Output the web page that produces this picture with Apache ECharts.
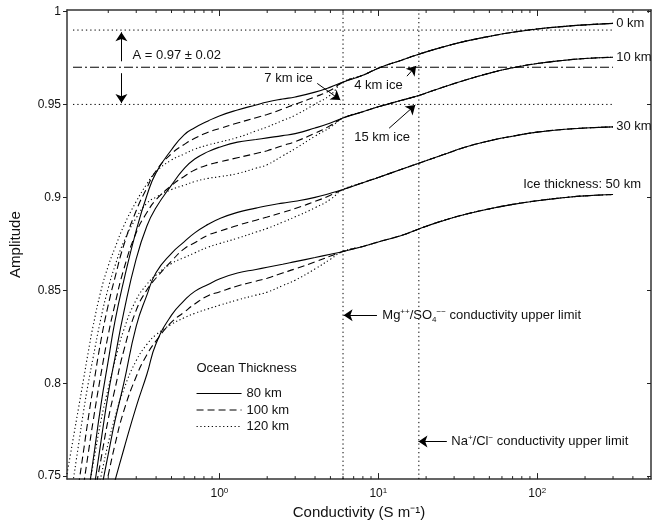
<!DOCTYPE html>
<html>
<head>
<meta charset="utf-8">
<script src="https://cdn.jsdelivr.net/npm/echarts@6.0.0/dist/echarts.min.js"></script>
<style>
  html, body { margin: 0; background: #fff; }
  #chart { width: 652px; height: 525px; }
</style>
</head>
<body>
<div id="chart"></div>
<script>
// conductivity samples (S/m), shared by every curve
const cond = [0.11, 0.12, 0.13, 0.14, 0.15, 0.16, 0.18, 0.2, 0.22, 0.25, 0.3, 0.35, 0.4, 0.5, 0.6, 0.7, 0.85, 1,
  1.3, 1.7, 2, 2.5, 3, 4, 5, 6, 8, 10, 14, 18, 25, 35, 50, 70, 100, 150, 200, 300];

// 80 km ocean (solid), full range, one array per ice thickness
const solid0 = [null, null, null, null, 0.7409, 0.7575, 0.7885, 0.8121, 0.8330, 0.8549, 0.8822, 0.9010, 0.9133, 0.9256, 0.9336, 0.9374,
  0.9411, 0.9438, 0.9470, 0.9497, 0.9513, 0.9529, 0.9540, 0.9566, 0.9593, 0.9620, 0.9657, 0.9695, 0.9738, 0.9770, 0.9807, 0.9839,
  0.9866, 0.9888, 0.9906, 0.9920, 0.9928, 0.9936];
const solid10 = [null, null, null, null, null, 0.7390, 0.7687, 0.7944, 0.8132, 0.8378, 0.8670, 0.8846, 0.8945, 0.9066, 0.9154, 0.9206,
  0.9246, 0.9270, 0.9297, 0.9311, 0.9320, 0.9332, 0.9343, 0.9373, 0.9400, 0.9427, 0.9461, 0.9487, 0.9522, 0.9548, 0.9590, 0.9630,
  0.9668, 0.9697, 0.9720, 0.9738, 0.9747, 0.9754];
const solid30 = [null, null, null, null, null, null, 0.7420, 0.7618, 0.7794, 0.7996, 0.8307, 0.8474, 0.8596, 0.8699, 0.8760, 0.8809,
  0.8855, 0.8885, 0.8919, 0.8942, 0.8955, 0.8969, 0.8979, 0.9000, 0.9022, 0.9042, 0.9079, 0.9107, 0.9151, 0.9184, 0.9226, 0.9269,
  0.9304, 0.9329, 0.9351, 0.9366, 0.9373, 0.9379];
const solid50 = [null, null, null, null, null, null, null, 0.7350, 0.7473, 0.7642, 0.7874, 0.8048, 0.8214, 0.8366, 0.8444, 0.8494,
  0.8531, 0.8561, 0.8593, 0.8612, 0.8624, 0.8640, 0.8654, 0.8676, 0.8694, 0.8709, 0.8736, 0.8760, 0.8795, 0.8830, 0.8872, 0.8908,
  0.8938, 0.8962, 0.8982, 0.8999, 0.9008, 0.9015];

// 100 km (dashed) and 120 km (dotted) ocean, up to 6 S/m; beyond that they follow the solid curve
const dash0 = [null, null, 0.7451, 0.7639, 0.7816, 0.7968, 0.8231, 0.8421, 0.8565, 0.8741, 0.8929, 0.9051, 0.9143, 0.9235, 0.9284,
  0.9318, 0.9350, 0.9370, 0.9400, 0.9428, 0.9446, 0.9475, 0.9501, 0.9540, 0.9576, 0.9620];
const dot0 = [0.7511, 0.7696, 0.7866, 0.8024, 0.8172, 0.8301, 0.8498, 0.8631, 0.8726, 0.8845, 0.8978, 0.9072, 0.9138, 0.9201, 0.9233,
  0.9259, 0.9282, 0.9297, 0.9322, 0.9357, 0.9379, 0.9413, 0.9442, 0.9502, 0.9551, 0.9620];
const dash10 = [null, null, null, 0.7455, 0.7628, 0.7787, 0.8050, 0.8261, 0.8421, 0.8611, 0.8811, 0.8918, 0.8987, 0.9064, 0.9112,
  0.9147, 0.9175, 0.9190, 0.9213, 0.9236, 0.9251, 0.9278, 0.9300, 0.9345, 0.9386, 0.9427];
const dot10 = [null, 0.7469, 0.7668, 0.7852, 0.8004, 0.8131, 0.8351, 0.8512, 0.8629, 0.8759, 0.8890, 0.8968, 0.9001, 0.9042, 0.9065,
  0.9085, 0.9102, 0.9111, 0.9128, 0.9157, 0.9176, 0.9223, 0.9262, 0.9329, 0.9377, 0.9427];
const dash30 = [null, null, null, null, null, 0.7347, 0.7591, 0.7807, 0.7966, 0.8173, 0.8393, 0.8502, 0.8566, 0.8657, 0.8723,
  0.8756, 0.8797, 0.8817, 0.8849, 0.8877, 0.8894, 0.8919, 0.8940, 0.8978, 0.9011, 0.9042];
const dot30 = [null, null, null, null, 0.7425, 0.7555, 0.7799, 0.7972, 0.8116, 0.8285, 0.8449, 0.8532, 0.8582, 0.8644, 0.8676,
  0.8701, 0.8732, 0.8751, 0.8780, 0.8813, 0.8833, 0.8866, 0.8895, 0.8944, 0.8989, 0.9042];
const dash50 = [null, null, null, null, null, null, 0.7327, 0.7506, 0.7666, 0.7848, 0.8036, 0.8153, 0.8228, 0.8328, 0.8382,
  0.8426, 0.8471, 0.8491, 0.8523, 0.8549, 0.8565, 0.8593, 0.8615, 0.8653, 0.8684, 0.8709];
const dot50 = [null, null, null, null, null, 0.7297, 0.7499, 0.7678, 0.7813, 0.7965, 0.8122, 0.8209, 0.8261, 0.8317, 0.8352,
  0.8376, 0.8400, 0.8419, 0.8448, 0.8474, 0.8490, 0.8525, 0.8554, 0.8615, 0.8667, 0.8709];

const oceanNames = ['80 km', '100 km', '120 km'];

// reference levels and conductivity limits
const dottedLevels = [0.99, 0.95];
const dashDotLevels = [0.97];
const levelSpan = [0.12, 300];
const condLimits = [6, 18];

// axis ticks
const condTicks = [1, 10, 100];
const minorTicks = [0.2, 0.3, 0.4, 0.5, 0.6, 0.7, 0.8, 0.9, 2, 3, 4, 5, 6, 7, 8, 9, 20, 30, 40, 50, 60, 70, 80, 90, 200, 300, 400, 500];
const ampTicks = [0.75, 0.8, 0.85, 0.9, 0.95, 1];

// annotations
const noteLabels = ['A = 0.97 \u00b1 0.02', '7 km ice', '4 km ice', '15 km ice', '0 km', '10 km', '30 km', 'Ice thickness: 50 km',
  'Mg{p|++}/SO{b|4}{p|\u2212\u2212} conductivity upper limit', 'Na{p|+}/Cl{p|\u2212} conductivity upper limit', 'Ocean Thickness'];
const noteCond = [0.284, 1.92, 7.06, 7.06, 314, 314, 314, 81.7, 10.6, 28.8, 0.717];
const noteAmp = [0.9764, 0.9641, 0.9604, 0.9325, 0.9936, 0.9754, 0.9379, 0.9069, 0.8362, 0.7687, 0.8078];
const arrowFrom = [[0.242, 0.9732], [0.242, 0.9668], [4.13, 0.9613], [15.15, 0.9652], [11.7, 0.9372], [9.81, 0.8365], [27.0, 0.7686]];
const arrowTo = [[0.242, 0.9888], [0.242, 0.9507], [5.77, 0.9524], [17.3, 0.9707], [17.1, 0.9497], [6.05, 0.8365], [17.9, 0.7686]];

const X_MIN = 0.11, X_MAX = 520;
const Y_MIN = 0.7484, Y_MAX = 1.0008;
const FONT = "'Liberation Sans', Arial, sans-serif";
const INK = '#111';

const chart = echarts.init(document.getElementById('chart'));

const dashTypes = ['solid', [7, 4], [1.2, 2.6]];

function curve(nameIdx, vals, tail) {
  const data = [];
  cond.forEach((c, i) => {
    const v = i < vals.length ? vals[i] : tail[i];
    if (v != null) data.push([c, v]);
  });
  return {
    type: 'line', name: oceanNames[nameIdx], data: data, symbol: 'none', smooth: 0.5,
    itemStyle: { color: '#000' },
    lineStyle: { color: '#000', width: 1.1, type: dashTypes[nameIdx] }, silent: true, z: 3
  };
}

const series = [];
[[solid0, dash0, dot0], [solid10, dash10, dot10], [solid30, dash30, dot30], [solid50, dash50, dot50]].forEach(g => {
  series.push(curve(0, g[0], g[0]));
  series.push(curve(1, g[1], g[0]));
  series.push(curve(2, g[2], g[0]));
});

dottedLevels.forEach(a => series.push({
  type: 'line', data: levelSpan.map(c => [c, a]), symbol: 'none', silent: true,
  lineStyle: { color: '#000', width: 1, type: [1.3, 3] }
}));
dashDotLevels.forEach(a => series.push({
  type: 'line', data: levelSpan.map(c => [c, a]), symbol: 'none', silent: true,
  lineStyle: { color: '#000', width: 1, type: [9, 3, 2, 3] }
}));
condLimits.forEach(c => series.push({
  type: 'line', data: [[c, Y_MIN], [c, Y_MAX]], symbol: 'none', silent: true,
  lineStyle: { color: '#000', width: 1, type: [1.3, 3] }
}));

// arrows
series.push({
  type: 'line', data: [], silent: true,
  markLine: {
    silent: true, animation: false, symbol: ['none', 'arrow'], symbolSize: 9,
    label: { show: false },
    lineStyle: { color: '#000', width: 1, type: 'solid' },
    data: arrowFrom.map((f, i) => [{ coord: f }, { coord: arrowTo[i] }])
  }
});

// minor log ticks, bottom and top
series.push({
  type: 'custom', silent: true, clip: false,
  data: minorTicks.map(v => [v, Y_MIN]),
  renderItem: function (params, api) {
    const v = api.value(0);
    const b = api.coord([v, Y_MIN]);
    const t = api.coord([v, Y_MAX]);
    return {
      type: 'group', children: [
        { type: 'line', shape: { x1: b[0], y1: b[1], x2: b[0], y2: b[1] - 3 }, style: { stroke: '#222', lineWidth: 1 } },
        { type: 'line', shape: { x1: t[0], y1: t[1], x2: t[0], y2: t[1] + 3 }, style: { stroke: '#222', lineWidth: 1 } }
      ]
    };
  }
});

const axisLine = { show: true, lineStyle: { color: '#333', width: 1.5 } };

const option = {
  animation: false,
  backgroundColor: '#fff',
  grid: { left: 67, right: 1, top: 10, bottom: 44 },
  legend: {
    data: oceanNames, orient: 'vertical', left: 196, top: 387, padding: 0,
    itemWidth: 45, itemHeight: 14, itemGap: 3.5, selectedMode: false,
    itemStyle: { opacity: 0 },
    lineStyle: { width: 1.1, color: '#000' },
    textStyle: { fontSize: 13, fontFamily: FONT, color: INK }
  },
  xAxis: [{
    type: 'log', logBase: 10, min: X_MIN, max: X_MAX, position: 'bottom',
    axisLine: axisLine,
    axisTick: { inside: true, length: 6, customValues: condTicks, lineStyle: { color: '#222' } },
    axisLabel: {
      customValues: condTicks, margin: 8, color: INK, fontSize: 12, fontFamily: FONT,
      formatter: v => '10{s|' + Math.round(Math.log10(v)) + '}',
      rich: { s: { fontSize: 8, fontFamily: FONT, color: INK, verticalAlign: 'top', padding: [0, 0, 6, 0] } }
    },
    splitLine: { show: false },
    name: 'Conductivity (S m\u207b\u00b9)', nameLocation: 'middle', nameGap: 24,
    nameTextStyle: { fontSize: 15, fontFamily: FONT, color: INK }
  }, {
    type: 'log', logBase: 10, min: X_MIN, max: X_MAX, position: 'top',
    axisLine: axisLine,
    axisTick: { inside: true, length: 6, customValues: condTicks, lineStyle: { color: '#222' } },
    axisLabel: { show: false },
    splitLine: { show: false }
  }],
  yAxis: [{
    type: 'value', min: Y_MIN, max: Y_MAX, position: 'left',
    axisLine: axisLine,
    axisTick: { inside: false, length: 4, customValues: ampTicks, lineStyle: { color: '#222' } },
    axisLabel: {
      customValues: ampTicks, margin: 6, color: INK, fontSize: 12, fontFamily: FONT,
      formatter: v => String(Math.round(v * 100) / 100)
    },
    splitLine: { show: false },
    name: 'Amplitude', nameLocation: 'middle', nameGap: 44, nameRotate: 90,
    nameTextStyle: { fontSize: 15, fontFamily: FONT, color: INK }
  }, {
    type: 'value', min: Y_MIN, max: Y_MAX, position: 'right',
    axisLine: axisLine,
    axisTick: { inside: true, length: 4, customValues: ampTicks, lineStyle: { color: '#222' } },
    axisLabel: { show: false },
    splitLine: { show: false }
  }],
  series: series
};

chart.setOption(option);

// annotation texts placed through the chart's own scales
const richStyle = {
  p: { fontSize: 8, fontFamily: FONT, fill: INK, verticalAlign: 'top' },
  b: { fontSize: 8, fontFamily: FONT, fill: INK, verticalAlign: 'bottom' }
};
const graphics = noteLabels.map((txt, i) => {
  const p = chart.convertToPixel({ gridIndex: 0 }, [noteCond[i], noteAmp[i]]);
  return {
    type: 'text', x: p[0], y: p[1], silent: true, z: 10,
    style: {
      text: txt, fill: INK, fontSize: 13, fontFamily: FONT, lineHeight: 16,
      align: 'left', verticalAlign: 'middle', rich: richStyle
    }
  };
});
chart.setOption({ graphic: graphics });
</script>
</body>
</html>
